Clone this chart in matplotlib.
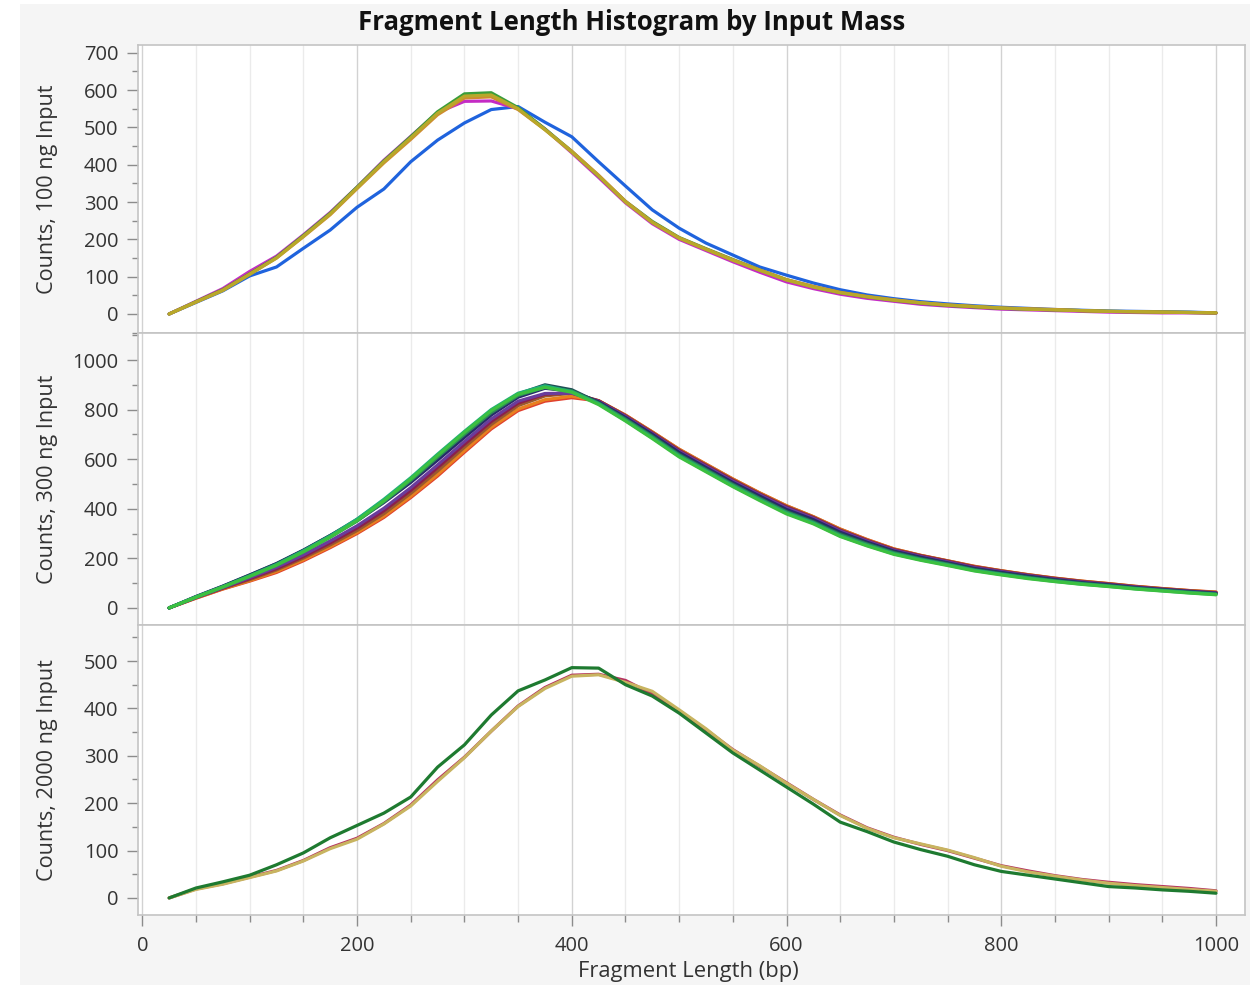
import matplotlib
matplotlib.use("Agg")
import matplotlib.pyplot as plt
from matplotlib.ticker import MultipleLocator
from matplotlib.patches import Rectangle

plt.rcParams['font.family'] = ['Open Sans', 'DejaVu Sans']

# ---------------- data ----------------
fragment_bp = [25, 50, 75, 100, 125, 150, 175, 200, 225, 250, 275, 300, 325, 350, 375, 400,
               425, 450, 475, 500, 525, 550, 575, 600, 625, 650, 675, 700, 725, 750, 775, 800,
               825, 850, 875, 900, 925, 950, 975, 1000]

# 100 ng input
ng100_blue    = [0, 31, 62, 102, 126, 176, 225, 286, 335, 408, 466, 512, 548, 556, 514, 475, 408, 343, 279, 230, 190, 158, 126, 104, 83, 65, 51, 41, 33, 27, 22, 18, 15, 12, 10, 8, 7, 6, 5, 3]
ng100_magenta = [0, 34, 68, 114, 155, 212, 272, 340, 412, 476, 540, 570, 571, 550, 496, 432, 366, 298, 242, 200, 170, 140, 112, 86, 68, 53, 42, 34, 26, 21, 17, 13, 11, 9, 7, 5, 4, 3, 3, 2]
ng100_green   = [0, 33, 65, 108, 152, 210, 270, 340, 410, 475, 542, 590, 593, 553, 496, 436, 370, 302, 248, 205, 175, 146, 118, 92, 73, 57, 46, 37, 29, 23, 19, 15, 13, 11, 9, 7, 6, 5, 4, 3]
ng100_orange  = [0, 32, 64, 107, 150, 207, 266, 336, 405, 468, 534, 579, 582, 548, 494, 436, 372, 302, 246, 204, 174, 145, 118, 92, 74, 58, 47, 38, 30, 24, 20, 16, 14, 12, 9, 7, 6, 5, 4, 3]
ng100_olive   = [0, 32, 63, 106, 150, 208, 268, 338, 408, 472, 538, 584, 587, 550, 494, 434, 370, 300, 245, 203, 173, 144, 117, 91, 72, 57, 46, 37, 30, 24, 20, 16, 13, 11, 9, 7, 6, 5, 4, 3]

# 300 ng input
ng300_lime     = [0, 43, 84, 127, 172, 226, 286, 352, 432, 520, 615, 708, 796, 862, 890, 870, 820, 754, 683, 609, 549, 489, 433, 379, 339, 288, 250, 216, 192, 171, 149, 133, 118, 106, 95, 86, 76, 68, 60, 53]
ng300_teal     = [0, 44, 85, 129, 175, 230, 290, 358, 438, 525, 620, 712, 800, 866, 896, 872, 823, 756, 686, 612, 552, 492, 436, 382, 342, 290, 252, 218, 194, 173, 151, 135, 120, 107, 96, 87, 77, 69, 61, 54]
ng300_seagreen = [0, 44, 85, 128, 173, 226, 285, 350, 428, 514, 608, 700, 788, 857, 890, 875, 826, 761, 691, 617, 557, 497, 441, 387, 346, 295, 257, 222, 197, 176, 153, 137, 122, 109, 98, 89, 79, 71, 63, 56]
ng300_slate    = [0, 45, 87, 132, 178, 232, 292, 357, 434, 518, 610, 702, 792, 863, 900, 880, 828, 763, 694, 620, 560, 500, 444, 390, 349, 299, 260, 225, 200, 179, 156, 140, 125, 112, 100, 91, 80, 72, 64, 57]
ng300_navy     = [0, 46, 88, 133, 179, 233, 292, 352, 425, 506, 596, 688, 778, 850, 886, 874, 831, 768, 700, 627, 566, 506, 451, 397, 356, 305, 265, 229, 204, 182, 159, 143, 128, 114, 102, 93, 82, 74, 66, 59]
ng300_purple   = [0, 42, 82, 122, 164, 214, 270, 331, 402, 485, 577, 671, 762, 834, 865, 866, 833, 772, 703, 631, 571, 511, 456, 403, 361, 310, 269, 232, 207, 185, 162, 146, 130, 116, 104, 94, 84, 75, 67, 60]
ng300_maroon   = [0, 42, 80, 118, 158, 207, 262, 322, 392, 474, 566, 660, 752, 826, 862, 868, 835, 774, 706, 635, 575, 515, 459, 407, 364, 313, 272, 235, 210, 188, 165, 148, 132, 118, 106, 96, 85, 76, 68, 61]
ng300_sienna   = [0, 41, 79, 114, 153, 201, 254, 312, 380, 462, 552, 648, 740, 816, 855, 866, 836, 776, 708, 637, 577, 517, 461, 409, 366, 315, 273, 236, 211, 189, 166, 149, 133, 119, 107, 97, 86, 77, 69, 62]
ng300_orange   = [0, 40, 77, 110, 147, 194, 247, 304, 370, 450, 538, 634, 728, 802, 840, 854, 836, 777, 710, 640, 580, 520, 464, 412, 368, 318, 275, 238, 212, 190, 167, 150, 134, 120, 108, 98, 87, 78, 70, 63]
ng300_red      = [0, 39, 76, 108, 143, 190, 243, 300, 365, 445, 532, 628, 722, 796, 834, 848, 835, 778, 710, 640, 580, 520, 464, 412, 368, 318, 276, 238, 212, 190, 168, 150, 134, 120, 108, 98, 87, 78, 70, 64]

# 2000 ng input
ng2000_maroon = [0, 19, 30, 44, 58, 79, 106, 126, 157, 196, 249, 297, 352, 405, 444, 470, 472, 459, 430, 395, 355, 313, 278, 243, 208, 175, 148, 128, 113, 100, 84, 68, 57, 47, 39, 33, 28, 24, 20, 15]
ng2000_olive  = [0, 18, 29, 43, 57, 78, 104, 124, 156, 194, 246, 296, 352, 404, 442, 468, 471, 455, 436, 397, 357, 312, 279, 242, 208, 174, 147, 127, 114, 101, 85, 67, 55, 46, 38, 31, 26, 22, 18, 14]
ng2000_green  = [0, 21, 34, 48, 70, 95, 127, 153, 179, 213, 276, 323, 386, 437, 460, 486, 485, 450, 426, 390, 348, 306, 270, 234, 198, 160, 140, 118, 102, 88, 70, 56, 48, 40, 32, 24, 21, 17, 14, 10]

panel_labels = ["Counts, 100 ng Input", "Counts, 300 ng Input", "Counts, 2000 ng Input"]
title = "Fragment Length Histogram by Input Mass"
xlabel = "Fragment Length (bp)"

# ---------------- figure ----------------
W, H = 1258, 986
fig = plt.figure(figsize=(W / 100, H / 100), dpi=100, facecolor='white')
fig.patches.append(Rectangle((20 / W, 1 - 985 / H), (1250 - 20) / W, (985 - 4) / H,
                             transform=fig.transFigure, facecolor='#f5f5f5',
                             edgecolor='none', zorder=-10))

left, right = 138, 1245
tops = [45, 333, 625]
bottoms = [333, 625, 915]

panels = [
    dict(series=[(ng100_blue, '#1f63dd'), (ng100_magenta, '#c42bc4'), (ng100_green, '#3a9d3a'),
                 (ng100_orange, '#d08a30'), (ng100_olive, '#b8a82a')],
         ylim=(-51, 721), major=100, minor=50),
    dict(series=[(ng300_red, '#e0402e'), (ng300_orange, '#e8801f'), (ng300_sienna, '#9a5a2c'),
                 (ng300_maroon, '#8b1f4c'), (ng300_purple, '#6a3c9c'), (ng300_navy, '#27296b'),
                 (ng300_slate, '#1f4f55'), (ng300_seagreen, '#2e8b57'), (ng300_teal, '#1fb07a'),
                 (ng300_lime, '#3cc040')],
         ylim=(-69, 1109), major=200, minor=100),
    dict(series=[(ng2000_maroon, '#b5305f'), (ng2000_olive, '#c8b460'), (ng2000_green, '#1e7a30')],
         ylim=(-36, 576), major=100, minor=50),
]

axes = []
for i, p in enumerate(panels):
    ax = fig.add_axes([left / W, 1 - bottoms[i] / H, (right - left) / W, (bottoms[i] - tops[i]) / H])
    ax.set_facecolor('white')
    for vals, col in p['series']:
        ax.plot(fragment_bp, vals, color=col, lw=2.3, solid_capstyle='round',
                solid_joinstyle='round', zorder=3)
    ax.set_xlim(-4, 1027)
    ax.set_ylim(*p['ylim'])
    ax.xaxis.set_major_locator(MultipleLocator(200))
    ax.xaxis.set_minor_locator(MultipleLocator(50))
    ax.yaxis.set_major_locator(MultipleLocator(p['major']))
    ax.yaxis.set_minor_locator(MultipleLocator(p['minor']))
    ax.grid(True, axis='x', which='major', color='#d2d2d2', lw=1.0, zorder=0)
    ax.grid(True, axis='x', which='minor', color='#ebebeb', lw=1.0, zorder=0)
    ax.set_axisbelow(True)
    for s in ax.spines.values():
        s.set_color('#c4c4c4')
        s.set_linewidth(1.2)
    ax.tick_params(axis='y', which='major', direction='out', length=8, width=1,
                   color='#8c8c8c', labelsize=14.5, labelcolor='#333333', pad=6)
    ax.tick_params(axis='y', which='minor', direction='out', length=4, width=1, color='#8c8c8c')
    if i < 2:
        ax.tick_params(axis='x', which='both', length=0, labelbottom=False)
    else:
        ax.tick_params(axis='x', which='major', direction='out', length=8, width=1,
                       color='#8c8c8c', labelsize=14.5, labelcolor='#333333', pad=7)
        ax.tick_params(axis='x', which='minor', direction='out', length=5, width=1, color='#8c8c8c')
    fig.text(48 / W, 1 - (tops[i] + bottoms[i]) / 2 / H, panel_labels[i], rotation=90,
             ha='center', va='center', fontsize=15.6, color='#333333')
    axes.append(ax)

fig.text(632 / W, 1 - 23 / H, title, ha='center', va='center', fontsize=18.5,
         fontweight='bold', color='#111111')
fig.text(688 / W, 1 - 971 / H, xlabel, ha='center', va='center', fontsize=15.8, color='#333333')

fig.savefig('out.png', dpi=100, facecolor=fig.get_facecolor())
